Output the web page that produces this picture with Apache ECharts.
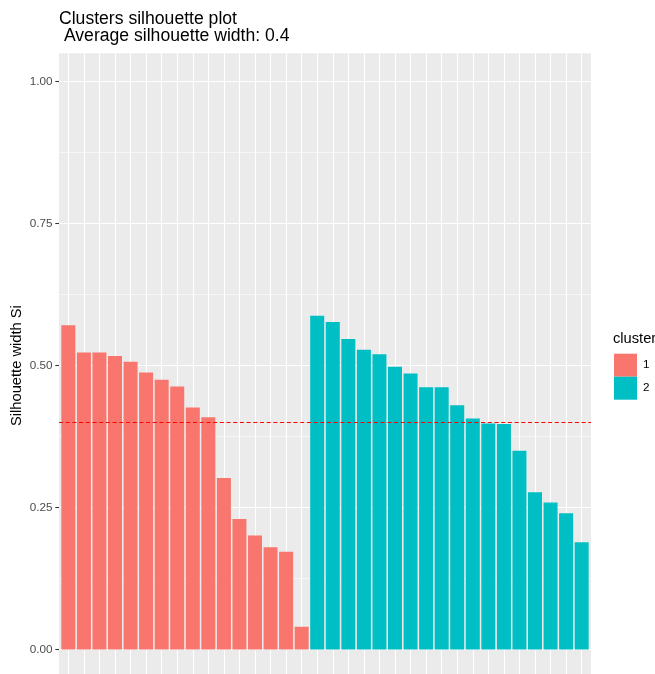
<!DOCTYPE html>
<html>
<head>
<meta charset="utf-8">
<script src="https://cdn.jsdelivr.net/npm/echarts@6/dist/echarts.min.js"></script>
<style>
  html, body { margin: 0; padding: 0; background: #ffffff; }
  #chart { width: 655px; height: 674px; }
</style>
</head>
<body>
<div id="chart"></div>
<script>
// Silhouette widths per observation, sorted within each cluster
const cluster1Widths = [0.571, 0.523, 0.523, 0.517, 0.507, 0.488, 0.475, 0.463,
                        0.426, 0.409, 0.302, 0.230, 0.201, 0.180, 0.172, 0.040];
const cluster2Widths = [0.588, 0.577, 0.547, 0.528, 0.520, 0.498, 0.486, 0.462,
                        0.462, 0.430, 0.407, 0.398, 0.397, 0.350, 0.277, 0.259,
                        0.240, 0.189];
const clusterNames = ['1', '2'];
const clusterColors = ['#F8766D', '#00BFC4'];
const averageWidth = 0.4;
const yTicks = [0, 0.25, 0.5, 0.75, 1];
const yMinorTicks = [0.125, 0.375, 0.625, 0.875];

const FONT = '"Liberation Sans", Arial, sans-serif';

// Observations sit at discrete positions 1..n along the x axis
const nObs = cluster1Widths.length + cluster2Widths.length;
const positions = [];
for (let i = 1; i <= nObs; i++) positions.push(i);

const series1Data = cluster1Widths.map((v, i) => [positions[i], v]);
const series2Data = cluster2Widths.map((v, i) => [positions[cluster1Widths.length + i], v]);

const chart = echarts.init(document.getElementById('chart'), null, { renderer: 'canvas' });

chart.setOption({
  animation: false,
  backgroundColor: '#ffffff',
  textStyle: { fontFamily: FONT },
  title: [
    {
      text: 'Clusters silhouette plot\n Average silhouette width: ' + averageWidth,
      left: 59, top: 10, padding: 0,
      textStyle: { fontFamily: FONT, fontSize: 17.6, fontWeight: 'normal', color: '#000000', lineHeight: 17.7 }
    },
    {
      text: 'cluster',
      left: 613, top: 331, padding: 0,
      textStyle: { fontFamily: FONT, fontSize: 14.7, fontWeight: 'normal', color: '#000000' }
    }
  ],
  legend: {
    data: clusterNames,
    orient: 'vertical',
    left: 614, top: 353.7,
    padding: 0,
    itemGap: 0,
    itemWidth: 23, itemHeight: 23,
    icon: 'rect',
    itemStyle: { borderWidth: 0 },
    selectedMode: false,
    textStyle: { fontFamily: FONT, fontSize: 11.7, color: '#000000', padding: [0, 0, 0, 1] }
  },
  grid: {
    left: 59, top: 53.3, width: 532, height: 624.6,
    show: true, backgroundColor: '#EBEBEB', borderWidth: 0,
    containLabel: false,
    outerBoundsMode: 'none'
  },
  xAxis: {
    type: 'value',
    min: 0.4, max: 34.6,
    axisLine: { show: false },
    axisTick: { show: false, customValues: positions },
    axisLabel: { show: false },
    splitLine: { show: true, lineStyle: { color: '#ffffff', width: 1.1 } }
  },
  yAxis: [
    {
      type: 'value',
      min: -0.05, max: 1.05,
      position: 'left',
      name: 'Silhouette width Si',
      nameLocation: 'middle',
      nameRotate: 90,
      nameGap: 35,
      nameMoveOverlap: false,
      nameTextStyle: { fontFamily: FONT, fontSize: 14.7, color: '#000000' },
      axisLine: { show: false },
      axisTick: { show: true, length: 3.7, customValues: yTicks, lineStyle: { color: '#333333', width: 1.07 } },
      axisLabel: {
        customValues: yTicks,
        margin: 6.5,
        fontFamily: FONT, fontSize: 11.7, color: '#4D4D4D',
        formatter: v => v.toFixed(2)
      },
      splitLine: { show: true, lineStyle: { color: '#ffffff', width: 1.1 } }
    },
    {
      type: 'value',
      min: -0.05, max: 1.05,
      position: 'left',
      axisLine: { show: false },
      axisTick: { show: false, customValues: yMinorTicks },
      axisLabel: { show: false, customValues: yMinorTicks },
      splitLine: { show: true, lineStyle: { color: '#ffffff', width: 0.55 } }
    }
  ],
  series: [
    {
      name: clusterNames[0],
      type: 'bar',
      data: series1Data,
      barCategoryGap: '10%',
      barGap: '-100%',
      itemStyle: { color: clusterColors[0], borderColor: clusterColors[0], borderWidth: 1.4 }
    },
    {
      name: clusterNames[1],
      type: 'bar',
      data: series2Data,
      barCategoryGap: '10%',
      barGap: '-100%',
      itemStyle: { color: clusterColors[1], borderColor: clusterColors[1], borderWidth: 1.4 },
      markLine: {
        silent: true,
        symbol: ['none', 'none'],
        label: { show: false },
        z: 5,
        lineStyle: { color: '#FF0000', type: [4, 2.7], width: 1.07 },
        data: [{ yAxis: averageWidth }]
      }
    }
  ]
});
</script>
</body>
</html>
